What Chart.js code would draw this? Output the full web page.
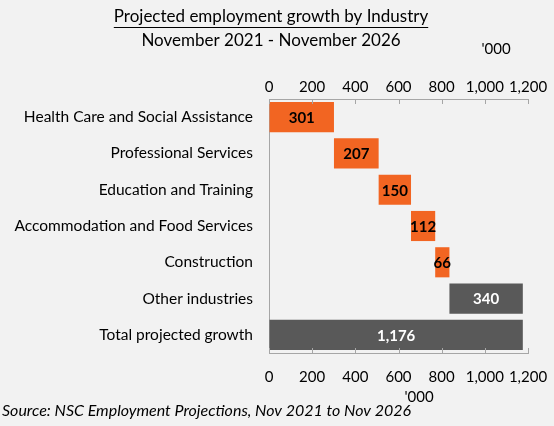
<!DOCTYPE html>
<html>
<head>
<meta charset="utf-8">
<title>Projected employment growth by Industry</title>
<script src="https://cdn.jsdelivr.net/npm/chart.js@4.4.1/dist/chart.umd.min.js"></script>
<style>
    html, body { margin: 0; padding: 0; background: #f2f2f2; }
    #wrap { width: 554px; height: 426px; position: relative; }
</style>
</head>
<body>

<script>

    // growth by industry, '000 persons
    const industries = [
        "Health Care and Social Assistance",
        "Professional Services",
        "Education and Training",
        "Accommodation and Food Services",
        "Construction",
        "Other industries",
    ]
    const growth = [301, 207, 150, 112, 66, 340]
    const totalLabel = "Total projected growth"
    const totalGrowth = 1176

    const tickValues = [0, 200, 400, 600, 800, 1000, 1200]

    const titleText = "Projected employment growth by Industry"
    const subtitleText = "November 2021 - November 2026"
    const unitText = "'000"
    const sourceText = "Source: NSC Employment Projections, Nov 2021 to Nov 2026"

</script>

<div id="wrap"><canvas id="chart" width="554" height="426"></canvas></div>

<script>

    const FONT = "Lato, 'Open Sans', sans-serif"
    const ORANGE = "#f26522"
    const GREY = "#595959"
    const AXIS = "#a6a6a6"

    // waterfall: each industry starts where the previous one ended
    let running = 0
    const floating = growth.map(v => {
        const bar = [running, running + v]
        running += v
        return bar
    })
    floating.push([0, totalGrowth])

    const labels = [...industries, totalLabel]
    const amounts = [...growth, totalGrowth]
    const colours = labels.map((l, i) => i < growth.length - 1 ? ORANGE : GREY)

    const fmt = v => v.toLocaleString("en-US")

    // values written in the middle of each bar
    const barLabels = {
        id: "barLabels",
        afterDatasetsDraw(chart) {
            const ctx = chart.ctx
            const meta = chart.getDatasetMeta(0)
            ctx.save()
            ctx.font = "bold 15px " + FONT
            ctx.textAlign = "center"
            ctx.textBaseline = "middle"
            meta.data.forEach((bar, i) => {
                const x = (bar.x + bar.base) / 2
                ctx.fillStyle = colours[i] === ORANGE ? "#000" : "#fff"
                ctx.fillText(fmt(amounts[i]), x, bar.y + 1)
            })
            ctx.restore()
        }
    }

    // small tick marks pointing into the plot, plus title, units and source
    const decorations = {
        id: "decorations",
        afterDraw(chart) {
            const ctx = chart.ctx
            const area = chart.chartArea
            const xb = chart.scales.x
            ctx.save()
            ctx.strokeStyle = AXIS
            ctx.lineWidth = 1
            tickValues.forEach(v => {
                const px = Math.round(xb.getPixelForValue(v)) + 0.5
                ctx.beginPath()
                ctx.moveTo(px, area.top)
                ctx.lineTo(px, area.top + 5)
                ctx.moveTo(px, area.bottom)
                ctx.lineTo(px, area.bottom - 5)
                ctx.stroke()
            })

            ctx.fillStyle = "#000"
            ctx.textAlign = "center"
            ctx.textBaseline = "middle"
            ctx.font = "17px " + FONT
            ctx.fillText(titleText, 271, 17)
            const w = ctx.measureText(titleText).width
            ctx.fillRect(271 - w / 2, 27, w, 1)
            ctx.fillText(subtitleText, 271, 41)

            ctx.font = "15px " + FONT
            ctx.fillText(unitText, 496, 49)
            ctx.fillText(unitText, 419, 397)

            ctx.textAlign = "left"
            ctx.font = "italic 16px " + FONT
            ctx.fillText(sourceText, 2, 411)
            ctx.restore()
        }
    }

    const tickOpts = {
        color: "#000",
        font: { family: FONT, size: 15 },
        callback: v => fmt(v),
        autoSkip: false,
        maxRotation: 0,
    }

    // fixed axis band; no extra room reserved for the end labels
    const fitX = h => s => {
        s.height = h
        s.paddingLeft = 0
        s.paddingRight = 0
    }

    new Chart(document.getElementById("chart"), {
        type: "bar",
        data: {
            labels: labels,
            datasets: [{
                data: floating,
                backgroundColor: colours,
                borderWidth: 0,
                barPercentage: 1,
                categoryPercentage: 0.83,
                borderSkipped: false,
            }]
        },
        options: {
            indexAxis: "y",
            responsive: false,
            animation: false,
            layout: { padding: { top: 60, right: 26, bottom: 0, left: 0 } },
            plugins: {
                legend: { display: false },
                tooltip: { enabled: false },
            },
            scales: {
                x: {
                    position: "bottom",
                    min: 0, max: 1200,
                    afterBuildTicks: s => { s.ticks = tickValues.map(v => ({ value: v })) },
                    afterFit: fitX(73),
                    ticks: { ...tickOpts, padding: 15 },
                    grid: { drawOnChartArea: false, drawTicks: false },
                    border: { display: true, color: AXIS },
                },
                x2: {
                    position: "top",
                    axis: "x",
                    min: 0, max: 1200,
                    afterBuildTicks: s => { s.ticks = tickValues.map(v => ({ value: v })) },
                    afterFit: fitX(39),
                    ticks: { ...tickOpts, padding: 3 },
                    grid: { drawOnChartArea: false, drawTicks: false },
                    border: { display: true, color: AXIS },
                },
                y: {
                    afterFit: s => { s.width = 269 },
                    ticks: { color: "#000", font: { family: FONT, size: 15.5 }, padding: 16 },
                    grid: { drawOnChartArea: false, drawTicks: false },
                    border: { display: true, color: AXIS },
                },
            },
        },
        plugins: [barLabels, decorations],
    })

</script>
</body>
</html>
